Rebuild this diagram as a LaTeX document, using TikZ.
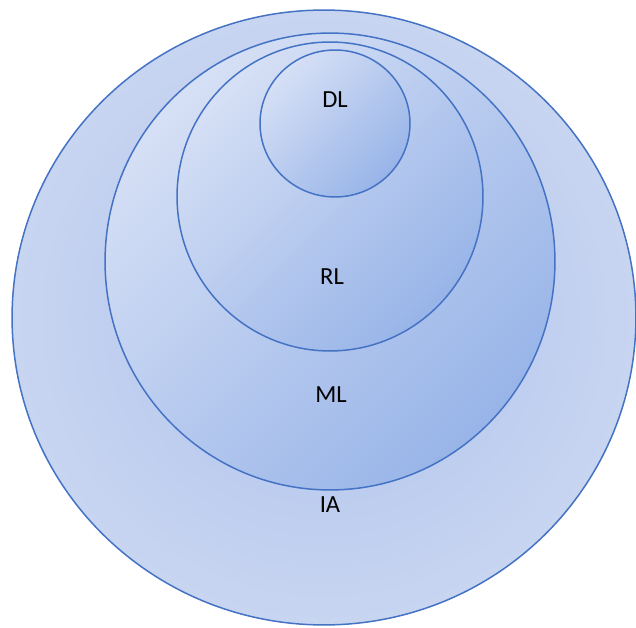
\documentclass[tikz,border=0pt]{standalone}
\usepackage{fontspec}
\setmainfont{Carlito}
\usetikzlibrary{shapes.geometric}

\definecolor{ringline}{RGB}{68,114,196}
\definecolor{ringlight}{RGB}{214,224,245}
\definecolor{ringdark}{RGB}{152,180,232}
\definecolor{outeredge}{RGB}{200,213,241}
\definecolor{outermid}{RGB}{174,194,236}

\tikzset{
    ring/.style={ellipse, draw=ringline, line width=0.85pt, inner sep=0pt},
    innerring/.style={ring, top color=ringlight, bottom color=ringdark, shading angle=45},
    outerring/.style={ring, inner color=outermid, outer color=outeredge},
    tag/.style={font=\fontsize{14}{16}\selectfont, text=black}
}

\begin{document}
\begin{tikzpicture}[x=0.02cm, y=-0.02cm]
    \useasboundingbox (0,0) rectangle (636,628);
    % The rings, biggest first.
        \node[outerring, minimum width=12.48cm, minimum height=12.3cm] (ia) at (324,317.5) {};
        \node[innerring, minimum width=9cm, minimum height=9.14cm] (ml) at (330,261.5) {};
        \node[innerring, minimum width=6.12cm, minimum height=6.18cm] (rl) at (330,196.5) {};
        \node[innerring, minimum width=3cm, minimum height=2.94cm] (dl) at (335,123.5) {};
    % Below nodes are the labels.
        \node[tag] (dltext) at (335,100) {DL};
        \node[tag] (rltext) at (332,277) {RL};
        \node[tag] (mltext) at (331,395) {ML};
        \node[tag] (iatext) at (330,505) {IA};
\end{tikzpicture}
\end{document}
